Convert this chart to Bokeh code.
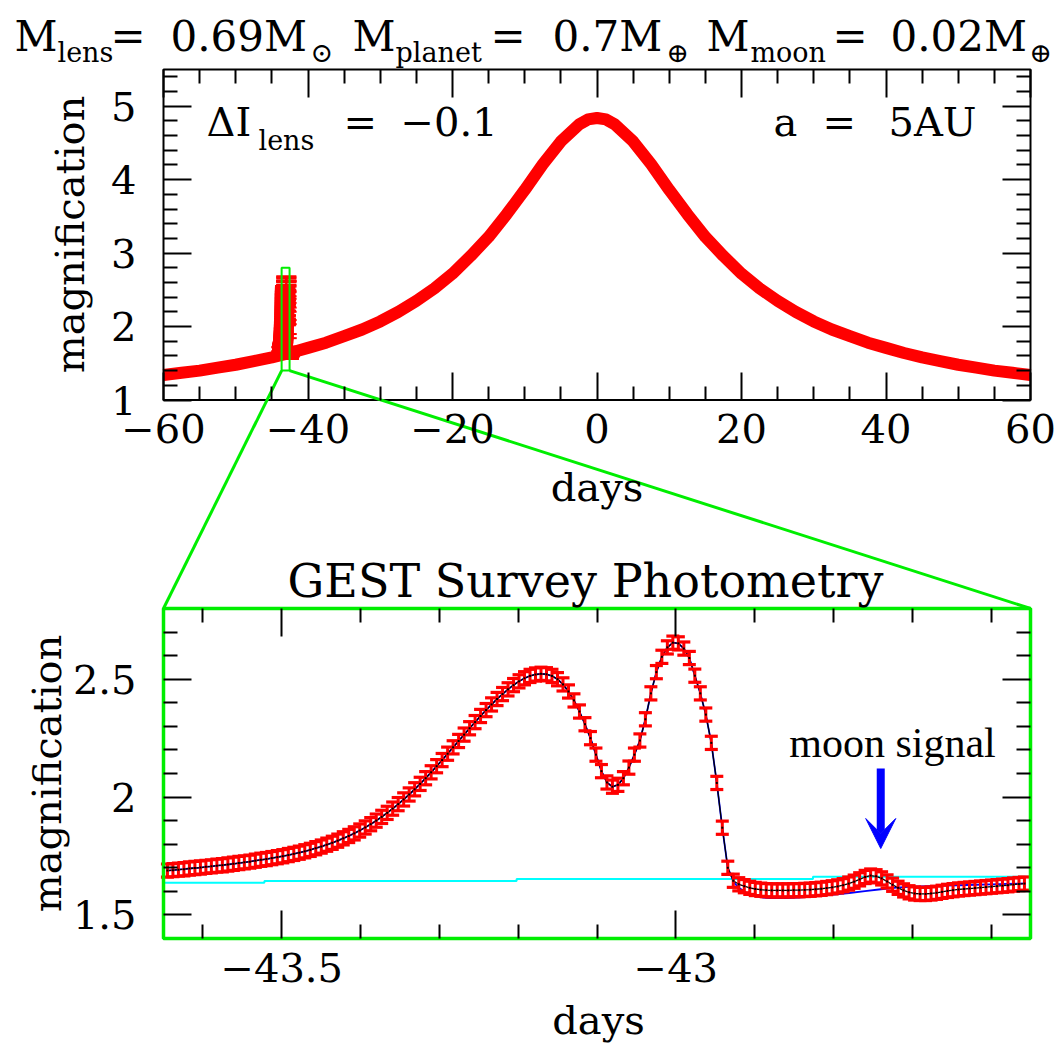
import numpy as np
from bokeh.plotting import figure
from bokeh.models import (Range1d, LinearAxis, FixedTicker, CustomJSTickFormatter,
                          ColumnDataSource, Arrow, VeeHead, Grid)
from bokeh.core.properties import value
from bokeh.embed import file_html
from bokeh.resources import INLINE

# ------------------------------------------------------------------ data
# full light curve (days, magnification)
MAIN_T = [-60, -57.5, -55, -52.5, -50, -47.5, -45, -42.5, -40, -37.5, -35, -32.5,
          -30, -27.5, -25, -22.5, -20, -17.5, -15, -12.5, -10, -7.5, -5, -2.5,
          -1.25, 0, 1.25,
          2.5, 5, 7.5, 10, 12.5, 15, 17.5, 20, 22.5, 25, 27.5, 30,
          32.5, 35, 37.5, 40, 42.5, 45, 47.5, 50, 52.5, 55, 57.5, 60]
MAIN_A = [1.34, 1.37, 1.40, 1.44, 1.48, 1.53, 1.58, 1.64, 1.71, 1.78, 1.87, 1.96,
          2.07, 2.20, 2.35, 2.52, 2.72, 2.96, 3.22, 3.53, 3.86, 4.21, 4.52, 4.75,
          4.82, 4.84, 4.82,
          4.75, 4.52, 4.21, 3.86, 3.53, 3.22, 2.96, 2.72, 2.52, 2.35, 2.20, 2.07,
          1.96, 1.87, 1.78, 1.71, 1.64, 1.58, 1.53, 1.48, 1.44, 1.40, 1.37, 1.34]

# GEST survey photometry around the anomaly (regular cadence)
ZOOM_T0 = -43.645
ZOOM_CADENCE = 0.00697
ZOOM_A = [1.688, 1.690, 1.692, 1.694, 1.697, 1.699, 1.701, 1.704, 1.706, 1.709,
          1.711, 1.714, 1.717, 1.720, 1.723, 1.726, 1.730, 1.734, 1.737, 1.741,
          1.745, 1.749, 1.754, 1.759, 1.764, 1.770, 1.776, 1.783, 1.790, 1.798,
          1.806, 1.815, 1.825, 1.835, 1.846, 1.858, 1.871, 1.885, 1.900, 1.916,
          1.933, 1.951, 1.970, 1.990, 2.011, 2.033, 2.056, 2.080, 2.105, 2.131,
          2.157, 2.184, 2.211, 2.238, 2.265, 2.292, 2.318, 2.344, 2.369, 2.393,
          2.416, 2.437, 2.457, 2.475, 2.491, 2.504, 2.514, 2.520, 2.523, 2.521,
          2.514, 2.500, 2.478, 2.448, 2.410, 2.363, 2.309, 2.250, 2.180, 2.110,
          2.062, 2.044, 2.052, 2.080, 2.125, 2.180, 2.240, 2.330, 2.440, 2.530,
          2.595, 2.635, 2.655, 2.652, 2.630, 2.590, 2.515, 2.440, 2.350, 2.230,
          2.060, 1.870, 1.700, 1.645, 1.630, 1.622, 1.615, 1.610, 1.607, 1.605,
          1.604, 1.604, 1.604, 1.604, 1.605, 1.605, 1.606, 1.607, 1.609, 1.611,
          1.614, 1.617, 1.621, 1.626, 1.633, 1.641, 1.651, 1.661, 1.667, 1.664,
          1.655, 1.642, 1.628, 1.615, 1.604, 1.596, 1.591, 1.589, 1.589, 1.591,
          1.594, 1.598, 1.602, 1.605, 1.608, 1.610, 1.612, 1.614, 1.616, 1.618,
          1.620, 1.622, 1.624, 1.626, 1.629, 1.631, 1.633]
ZOOM_ERR = 0.028

# planet-only model (blue) where it departs from the planet+moon model
PLANET_T = [-42.927, -42.92, -42.91, -42.90, -42.89, -42.88, -42.86, -42.84, -42.82,
            -42.80, -42.78, -42.76, -42.74, -42.72, -42.70, -42.68, -42.66, -42.64,
            -42.62, -42.60, -42.58, -42.556]
PLANET_A = [1.640, 1.615, 1.593, 1.580, 1.574, 1.571, 1.571, 1.575, 1.580,
            1.586, 1.593, 1.601, 1.609, 1.616, 1.620, 1.622, 1.624, 1.626,
            1.628, 1.630, 1.632, 1.634]

# single-lens (no planet) curve, cyan
CYAN_T = [-43.65, -43.522, -43.202, -42.826, -42.55]
CYAN_A = [1.636, 1.644, 1.652, 1.662, 1.662]

MOON_T = -42.74

# ticks
TOP_XTICKS = [-60, -40, -20, 0, 20, 40, 60]
TOP_XMINOR = [-55, -50, -45, -35, -30, -25, -15, -10, -5, 5, 10, 15, 25, 30, 35, 45, 50, 55]
TOP_YTICKS = [1, 2, 3, 4, 5]
TOP_YMINOR = [1.2, 1.4, 1.6, 1.8, 2.2, 2.4, 2.6, 2.8, 3.2, 3.4, 3.6, 3.8,
              4.2, 4.4, 4.6, 4.8, 5.2, 5.4]
BOT_XTICKS = [-43.5, -43]
BOT_XMINOR = [-43.6, -43.4, -43.3, -43.2, -43.1, -42.9, -42.8, -42.7, -42.6]
BOT_YTICKS = [1.5, 2, 2.5]
BOT_YMINOR = [1.6, 1.7, 1.8, 1.9, 2.1, 2.2, 2.3, 2.4, 2.6, 2.7]

MAIN_XR = (-60, 60)
MAIN_YR = (1.0, 5.5)
ZOOM_XR = (-43.65, -42.55)
ZOOM_YR = (1.4, 2.8)

# ------------------------------------------------------------------ geometry
MARGIN = 0          # Bokeh's page template has no body margin
W, H = 1060, 1048
TOP_PX = dict(left=163, right=1030, bottom=399.5, top=69)
BOT_PX = dict(left=163, right=1030, bottom=938, top=608)

RED = "#ff0000"
GREEN = "#00ee00"
BLUE = "#0000ff"
CYAN = "#00ffff"
SERIF = "DejaVu Serif"


def lin(lo, hi, p_lo, p_hi, size):
    s = (p_hi - p_lo) / (hi - lo)
    start = lo - p_lo / s
    return start, start + size / s, s


MX0, MX1, MSX = lin(MAIN_XR[0], MAIN_XR[1], TOP_PX["left"] - MARGIN, TOP_PX["right"] - MARGIN, W)
MY0, MY1, MSY = lin(MAIN_YR[0], MAIN_YR[1], H - (TOP_PX["bottom"] - MARGIN), H - (TOP_PX["top"] - MARGIN), H)
ZX0, ZX1, ZSX = lin(ZOOM_XR[0], ZOOM_XR[1], BOT_PX["left"] - MARGIN, BOT_PX["right"] - MARGIN, W)
ZY0, ZY1, ZSY = lin(ZOOM_YR[0], ZOOM_YR[1], H - (BOT_PX["bottom"] - MARGIN), H - (BOT_PX["top"] - MARGIN), H)


def mx(px): return MX0 + (px - MARGIN) / MSX
def my(py): return MY0 + (H - (py - MARGIN)) / MSY
def zx(px): return ZX0 + (px - MARGIN) / ZSX
def zy(py): return ZY0 + (H - (py - MARGIN)) / ZSY


p = figure(width=W, height=H, x_range=Range1d(MX0, MX1), y_range=Range1d(MY0, MY1),
           x_axis_location=None, y_axis_location=None, toolbar_location=None,
           output_backend="svg", min_border=0, outline_line_color=None,
           background_fill_color="white", border_fill_color="white")
p.extra_x_ranges = {"zx": Range1d(ZX0, ZX1)}
p.extra_y_ranges = {"zy": Range1d(ZY0, ZY1)}
p.center = [c for c in p.center if not isinstance(c, Grid)]

FMT = CustomJSTickFormatter(code="return tick < 0 ? '\u2212' + String(-tick) : String(tick);")
BLANK = CustomJSTickFormatter(code="return '';")


def add_axis(side, loc, bounds, ticks, minor, labels, xr="default", yr="default"):
    ax = LinearAxis(fixed_location=loc, bounds=bounds,
                    ticker=FixedTicker(ticks=ticks, minor_ticks=minor),
                    formatter=FMT if labels else BLANK,
                    x_range_name=xr, y_range_name=yr,
                    axis_line_color=None,
                    major_tick_in=28, major_tick_out=0, minor_tick_in=14, minor_tick_out=0,
                    major_tick_line_color="black", major_tick_line_width=2,
                    minor_tick_line_color="black", minor_tick_line_width=2,
                    major_label_text_font=SERIF, major_label_text_font_size="40px",
                    major_label_text_color="black",
                    major_label_standoff=27 if side in ("left", "right") else 14)
    p.add_layout(ax, side)


# top panel axes
add_axis("left", MAIN_XR[0], MAIN_YR, TOP_YTICKS, TOP_YMINOR, True)
add_axis("right", MAIN_XR[1], MAIN_YR, TOP_YTICKS, TOP_YMINOR, False)
add_axis("below", MAIN_YR[0], MAIN_XR, TOP_XTICKS, TOP_XMINOR, True)
add_axis("above", MAIN_YR[1], MAIN_XR, TOP_XTICKS, TOP_XMINOR, False)
# bottom panel axes
add_axis("left", ZOOM_XR[0], ZOOM_YR, BOT_YTICKS, BOT_YMINOR, True, "zx", "zy")
add_axis("right", ZOOM_XR[1], ZOOM_YR, BOT_YTICKS, BOT_YMINOR, False, "zx", "zy")
add_axis("below", ZOOM_YR[0], ZOOM_XR, BOT_XTICKS, BOT_XMINOR, True, "zx", "zy")
add_axis("above", ZOOM_YR[1], ZOOM_XR, BOT_XTICKS, BOT_XMINOR, False, "zx", "zy")

# ------------------------------------------------------------------ data sources
zt = np.round(ZOOM_T0 + ZOOM_CADENCE * np.arange(len(ZOOM_A)), 5)
za = np.array(ZOOM_A)
zsrc = ColumnDataSource(dict(t=zt, a=za, lo=za - ZOOM_ERR, hi=za + ZOOM_ERR))

# ---- top panel
p.line(MAIN_T, MAIN_A, line_width=12, line_color=RED, line_join="round")
p.segment(x0="t", y0="lo", x1="t", y1="hi", source=zsrc, line_color=RED, line_width=2)
p.scatter(x="t", y="lo", source=zsrc, marker="dash", size=20, line_color=RED, line_width=2)
p.scatter(x="t", y="hi", source=zsrc, marker="dash", size=20, line_color=RED, line_width=2)
p.quad(left=[MAIN_XR[0]], right=[MAIN_XR[1]], bottom=[MAIN_YR[0]], top=[MAIN_YR[1]],
       fill_color=None, line_color="black", line_width=2)
p.quad(left=[ZOOM_XR[0]], right=[ZOOM_XR[1]], bottom=[ZOOM_YR[0]], top=[ZOOM_YR[1]],
       fill_color=None, line_color=GREEN, line_width=2)

# connectors: from the zoom box to the corners of the lower panel
zoom_top_main = my(BOT_PX["top"])
p.segment(x0=[ZOOM_XR[0], ZOOM_XR[1]], y0=[ZOOM_YR[0], ZOOM_YR[0]],
          x1=[MAIN_XR[0], MAIN_XR[1]], y1=[zoom_top_main, zoom_top_main],
          line_color=GREEN, line_width=3)

# ---- bottom panel
kw = dict(x_range_name="zx", y_range_name="zy")
p.step(CYAN_T, CYAN_A, mode="after", line_color=CYAN, line_width=2, **kw)

blue_t = [t for t in zt if t < PLANET_T[0]] + PLANET_T
blue_a = [a for t, a in zip(zt, za) if t < PLANET_T[0]] + PLANET_A
p.line(blue_t, blue_a, line_color=BLUE, line_width=1.8, **kw)
p.line(zt, za, line_color="black", line_width=1.3, **kw)

p.segment(x0="t", y0="lo", x1="t", y1="hi", source=zsrc, line_color=RED, line_width=3, **kw)
p.scatter(x="t", y="lo", source=zsrc, marker="dash", size=13, line_color=RED, line_width=3.2, **kw)
p.scatter(x="t", y="hi", source=zsrc, marker="dash", size=13, line_color=RED, line_width=3.2, **kw)
p.scatter(zt, za, marker="square", size=2, fill_color="black", line_color=None, **kw)

p.quad(left=[ZOOM_XR[0]], right=[ZOOM_XR[1]], bottom=[ZOOM_YR[0]], top=[ZOOM_YR[1]],
       fill_color=None, line_color=GREEN, line_width=3.5, **kw)

p.add_layout(Arrow(end=VeeHead(size=30, fill_color=BLUE, line_color=BLUE, line_width=1),
                   x_start=MOON_T, y_start=zy(768), x_end=MOON_T, y_end=zy(848),
                   line_color=BLUE, line_width=8, **kw))


# ------------------------------------------------------------------ texts
def add_texts(items, size, font=SERIF, align="left", baseline="alphabetic", angle=0.0,
              xr="default", yr="default"):
    src = ColumnDataSource(dict(x=[i[0] for i in items], y=[i[1] for i in items],
                                text=[i[2] for i in items]))
    p.text(x="x", y="y", text="text", source=src, text_font=value(font),
           text_font_size=value(f"{size}px"), text_align=align, text_baseline=baseline,
           angle=angle, text_color="black", x_range_name=xr, y_range_name=yr)


# title
TY, SY = 36, 52
add_texts([(mx(14), my(TY), "M"), (mx(110), my(TY), "="), (mx(170), my(TY), "0.69M"),
           (mx(352), my(TY), "M"), (mx(490), my(TY), "="), (mx(552), my(TY), "0.7M"),
           (mx(706), my(TY), "M"), (mx(832), my(TY), "="), (mx(890), my(TY), "0.02M")], 42)
add_texts([(mx(57), my(SY), "lens"), (mx(310), my(SY), "\u2299"), (mx(395), my(SY), "planet"),
           (mx(666), my(SY), "\u2295"), (mx(750), my(SY), "moon"), (mx(1029), my(SY), "\u2295")], 27)

# top panel annotations
AY = 121
add_texts([(mx(206), my(AY), "\u0394I"), (mx(343), my(AY), "="), (mx(400), my(AY), "\u22120.1"),
           (mx(773), my(AY), "a"), (mx(822), my(AY), "="), (mx(888), my(AY), "5AU")], 40)
add_texts([(mx(258), my(140), "lens")], 27)

# axis titles
add_texts([(mx(69), my(234), "magnification"), (mx(46), my(773), "magnification")], 40,
          align="center", angle=np.pi / 2)
add_texts([(0.0, my(486), "days"), (mx(598), my(1019), "days")], 40, align="center")

# lower panel title and moon label
add_texts([(mx(585), my(580), "GEST Survey Photometry")], 46, align="center")
add_texts([(zx(892), zy(742), "moon signal")], 42, font="Liberation Serif", align="center",
          xr="zx", yr="zy")

open("out.html", "w").write(file_html(p, INLINE))
